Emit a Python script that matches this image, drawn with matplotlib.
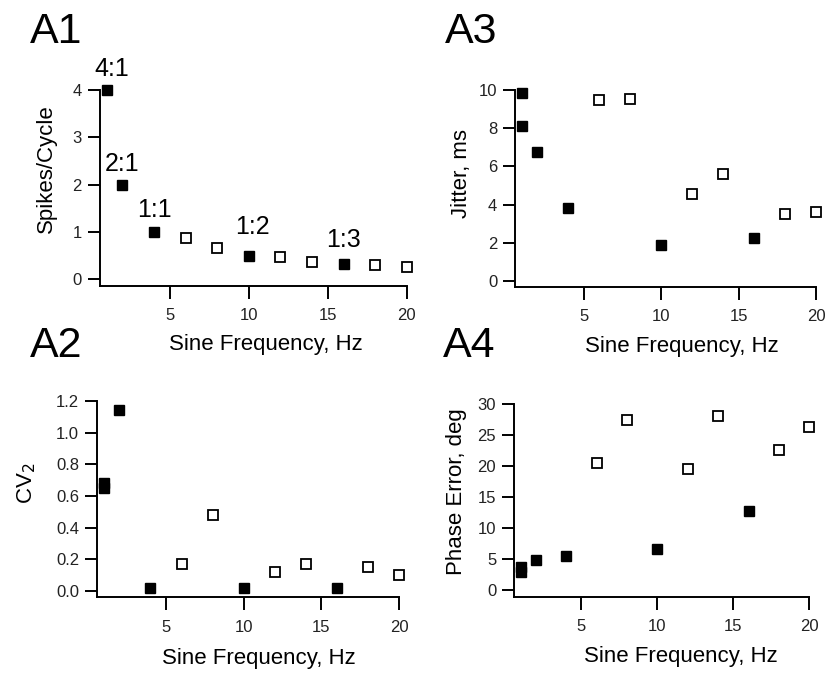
import numpy as np
import matplotlib
matplotlib.use("Agg")
import matplotlib.pyplot as plt

plt.rcParams['font.family'] = ['Liberation Sans', 'DejaVu Sans']

# --- data ---
freq_filled_a1 = [1, 2, 4, 10, 16]
freq_filled = [1, 1, 2, 4, 10, 16]
freq_open = [6, 8, 12, 14, 18, 20]

spikes_filled = [4.0, 2.0, 1.0, 0.5, 0.333]
spikes_open = [0.87, 0.67, 0.48, 0.37, 0.30, 0.26]
ratio_labels = ['4:1', '2:1', '1:1', '1:2', '1:3']

cv2_filled = [0.68, 0.65, 1.14, 0.02, 0.02, 0.02]
cv2_open = [0.17, 0.48, 0.12, 0.17, 0.15, 0.10]

jitter_filled = [9.85, 8.13, 6.77, 3.84, 1.88, 2.23]
jitter_open = [9.48, 9.53, 4.55, 5.58, 3.49, 3.63]

phase_filled = [3.7, 2.95, 4.88, 5.58, 6.65, 12.8]
phase_open = [20.5, 27.5, 19.6, 28.1, 22.6, 26.3]

W, H = 827, 673
fig = plt.figure(figsize=(W / 100, H / 100), dpi=100)


def px_axes(left, top, right, bottom):
    return fig.add_axes([left / W, 1 - bottom / H, (right - left) / W, (bottom - top) / H])


def style_axes(ax, ylim, yticks, yfmt, ylabel, ylab_xy, xlab_xy):
    ax.set_xlim(0.58, 20)
    ax.set_ylim(*ylim)
    ax.set_xticks([5, 10, 15, 20])
    ax.set_yticks(yticks)
    ax.set_yticklabels([yfmt.format(v) for v in yticks])
    for s in ['top', 'right']:
        ax.spines[s].set_visible(False)
    for s in ['left', 'bottom']:
        ax.spines[s].set_linewidth(1.4)
    ax.tick_params(axis='both', direction='out', length=9, width=1.4,
                   labelsize=12, labelcolor='#222222')
    ax.tick_params(axis='x', pad=7)
    ax.tick_params(axis='y', pad=4)
    ax.set_ylabel(ylabel, fontsize=16)
    ax.yaxis.set_label_coords(*ylab_xy)
    ax.set_xlabel('Sine Frequency, Hz', fontsize=16)
    ax.xaxis.set_label_coords(*xlab_xy)
    ax.patch.set_alpha(0)


def plot_points(ax, xf, yf, xo, yo):
    ax.plot(xf, yf, 's', color='black', ms=7, clip_on=False, zorder=3)
    ax.plot(xo, yo, 's', mfc='white', mec='black', mew=1.3, ms=6.5,
            clip_on=False, zorder=3)


# A1
ax1 = px_axes(100, 90, 406.7, 286)
plot_points(ax1, freq_filled_a1, spikes_filled, freq_open, spikes_open)
style_axes(ax1, (-0.14, 4), [0, 1, 2, 3, 4], '{:.0f}', 'Spikes/Cycle',
           (-0.140, 0.6), (0.54, -0.245))
label_offsets = [(4, 15), (0, 15), (0, 16), (3, 21), (0, 17)]
for x, y, lab, off in zip(freq_filled_a1, spikes_filled, ratio_labels, label_offsets):
    ax1.annotate(lab, (x, y), xytext=off, textcoords='offset points',
                 ha='center', va='center', fontsize=18, annotation_clip=False)

# A3
ax3 = px_axes(515.3, 90, 816, 286.7)
plot_points(ax3, freq_filled, jitter_filled, freq_open, jitter_open)
style_axes(ax3, (-0.3, 10), [0, 2, 4, 6, 8, 10], '{:.0f}', 'Jitter, ms',
           (-0.144, 0.575), (0.554, -0.25))

# A2
ax2 = px_axes(97.3, 401, 399, 597.3)
plot_points(ax2, freq_filled, cv2_filled, freq_open, cv2_open)
style_axes(ax2, (-0.04, 1.2), [0, 0.2, 0.4, 0.6, 0.8, 1.0, 1.2], '{:.1f}', 'CV$_2$',
           (-0.195, 0.58), (0.536, -0.258))

# A4
ax4 = px_axes(514.3, 404, 809.3, 596.7)
plot_points(ax4, freq_filled, phase_filled, freq_open, phase_open)
style_axes(ax4, (-1, 30), [0, 5, 10, 15, 20, 25, 30], '{:.0f}', 'Phase Error, deg',
           (-0.160, 0.546), (0.564, -0.256))

# panel letters
for lab, x, y in [('A1', 30, 43), ('A3', 445, 43), ('A2', 30, 357), ('A4', 443, 357)]:
    fig.text(x / W, 1 - y / H, lab, fontsize=31, va='baseline', ha='left')

fig.savefig('out.png', dpi=100, facecolor='white')
